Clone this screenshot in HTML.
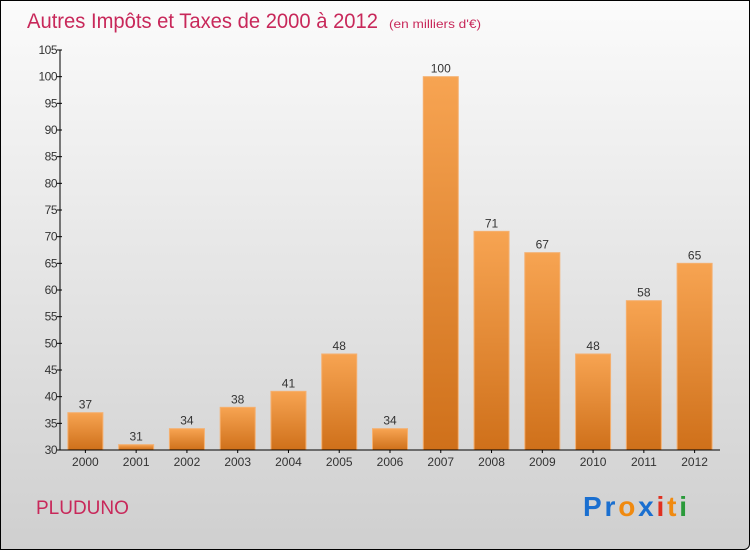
<!DOCTYPE html>
<html><head><meta charset="utf-8"><style>
body{margin:0;width:750px;height:550px;overflow:hidden;font-family:"Liberation Sans",sans-serif}
#wrap{position:absolute;left:0;top:0;width:748px;height:548px;border:1px solid #000;border-radius:0 0 6px 0;background:linear-gradient(#fbfbfb,#cfcfcf)}
</style></head><body>
<div id="wrap">
<svg width="750" height="550" style="position:absolute;left:-1px;top:-1px">
<defs><linearGradient id="bg" x1="0" y1="0" x2="0" y2="1"><stop offset="0" stop-color="#f7a452"/><stop offset="1" stop-color="#cf701a"/></linearGradient></defs>
<text x="27" y="28" font-size="21" fill="#c8285a" textLength="351" lengthAdjust="spacingAndGlyphs">Autres Impôts et Taxes de 2000 à 2012</text>
<text x="389" y="28" font-size="12" fill="#c8285a" textLength="92" lengthAdjust="spacingAndGlyphs">(en milliers d'€)</text>
<g id="plot"></g>
<text x="36" y="514" font-size="19" fill="#c8285a">PLUDUNO</text>
<text x="583" y="516" font-size="28" font-weight="bold" textLength="104" lengthAdjust="spacing"><tspan fill="#1a6fd0">Pr</tspan><tspan fill="#f08a10">o</tspan><tspan fill="#1a6fd0">x</tspan><tspan fill="#e03020">i</tspan><tspan fill="#f08a10">t</tspan><tspan fill="#2a9a3a">i</tspan></text>
</svg></div>
<script>
const categories=["2000","2001","2002","2003","2004","2005","2006","2007","2008","2009","2010","2011","2012"];
const values=[37,31,34,38,41,48,34,100,71,67,48,58,65];
const yTicks=[30,35,40,45,50,55,60,65,70,75,80,85,90,95,100,105];
const ns="http://www.w3.org/2000/svg",g=document.getElementById('plot');
const x0=60,x1=720,yMin=30,yMax=105,yB=450,yT=50;
const y=v=>yB-(v-yMin)/(yMax-yMin)*(yB-yT);
const bw=(x1-x0)/categories.length;
function mk(t,a,txt){const e=document.createElementNS(ns,t);for(const k in a)e.setAttribute(k,a[k]);if(txt!==undefined)e.textContent=txt;g.appendChild(e);return e;}
categories.forEach((c,i)=>{
 const cx=x0+(i+0.5)*bw,v=values[i];
 const r=mk('rect',{x:cx-17.5,y:y(v),width:35,height:yB-y(v),fill:'url(#bg)',stroke:'#f5b070','stroke-width':1});
 
 
 const l=mk('text',{x:cx,y:y(v)-4,'font-size':12,fill:'#333','text-anchor':'middle'},v);
 
 
 const t=mk('text',{x:cx,y:466,'font-size':12,fill:'#333','text-anchor':'middle'},c);
 
 
 mk('line',{x1:cx,x2:cx,y1:yB,y2:yB+3,stroke:'#000'});
});
yTicks.forEach(v=>{
 const t=mk('text',{x:57,y:y(v)+4,'font-size':12,fill:'#333','text-anchor':'end','letter-spacing':'-0.5'},v);
 
 
 mk('line',{x1:57,x2:62,y1:y(v),y2:y(v),stroke:'#000'});
});
const ya=mk('line',{x1:x0,x2:x0,y1:yT,y2:yB,stroke:'#000'});


const xa=mk('line',{x1:x0,x2:x1,y1:yB,y2:yB,stroke:'#000'});


</script>
</body></html>
